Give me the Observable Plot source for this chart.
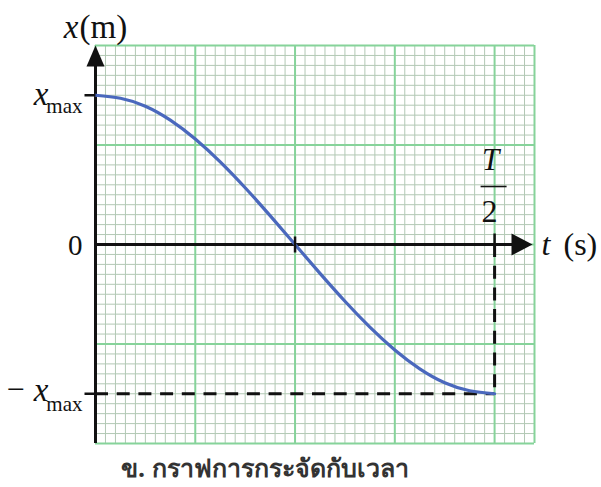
<!DOCTYPE html>
<html>
<head>
<meta charset="utf-8">
<script src="https://cdn.jsdelivr.net/npm/d3@7"></script>
<script src="https://cdn.jsdelivr.net/npm/@observablehq/plot@0.6"></script>
<style>
  body { margin: 0; background: #fff; }
  #caption { font-family: "Noto Sans", "DejaVu Sans", sans-serif; font-weight: bold; font-size: 25px; color: #333; margin-left: 121px; margin-top: 4px; line-height: 30px; }
</style>
</head>
<body>
<div id="chart"></div>
<div id="caption">ข. กราฟการกระจัดกับเวลา</div>
<script>
// time in grid units (T/2 = 4), displacement in grid units (x_max = 1.5)
const tValues = [0, 0.25, 0.5, 0.75, 1, 1.25, 1.5, 1.75, 2, 2.25, 2.5, 2.75, 3, 3.25, 3.5, 3.75, 4];
const xValues = [1.5, 1.47, 1.39, 1.25, 1.06, 0.83, 0.57, 0.29, 0, -0.29, -0.57, -0.83, -1.06, -1.25, -1.39, -1.47, -1.5];
const xMax = 1.5;
const tHalfPeriod = 4;
const tMid = 2;
const tEnd = 4.4;
const yLevels = [xMax, 0, -xMax];
const yAxisLabel = ["x", "(m)"];
const xAxisLabel = ["t", "(s)"];
const fracTop = "T", fracBottom = "2";

const data = tValues.map((t, i) => ({t, x: xValues[i]}));

const minorT = d3.range(0, 45).map(i => i / 10).filter(v => Math.abs(v - Math.round(v)) > 1e-9);
const majorT = [0, 1, 2, 3, 4, tEnd];
const minorY = d3.range(-20, 21).map(i => i / 10).filter(v => Math.abs(v - Math.round(v)) > 1e-9);
const majorY = [-2, -1, 0, 1, 2];

function lineSymbol(x1, y1, x2, y2) {
  return { draw(ctx) { ctx.moveTo(x1, y1); ctx.lineTo(x2, y2); } };
}
const upArrow = { draw(ctx) { ctx.moveTo(0, 0); ctx.lineTo(9, 21); ctx.lineTo(-9, 21); ctx.closePath(); } };
const rightArrow = { draw(ctx) { ctx.moveTo(-2, 0); ctx.lineTo(-23, 11); ctx.lineTo(-23, -11); ctx.closePath(); } };

const serif = "'Liberation Serif', 'DejaVu Serif', serif";
const ink = "#111";

const plot = Plot.plot({
  width: 601,
  height: 448,
  marginLeft: 95,
  marginRight: 67,
  marginTop: 45,
  marginBottom: 5,
  x: {domain: [0, tEnd], axis: null},
  y: {domain: [-2, 2], axis: null},
  style: {background: "#fff", overflow: "visible"},
  marks: [
    Plot.ruleX(minorT, {stroke: "#b2c8b4", strokeWidth: 1}),
    Plot.ruleY(minorY, {stroke: "#b2c8b4", strokeWidth: 1}),
    Plot.ruleX(majorT, {stroke: "#86d39a", strokeWidth: 2}),
    Plot.ruleY(majorY, {stroke: "#86d39a", strokeWidth: 2}),
    // axes
    Plot.ruleX([0], {y1: -2, y2: 1.9, stroke: ink, strokeWidth: 3}),
    Plot.ruleY([0], {x1: 0, x2: tEnd - 0.1, stroke: ink, strokeWidth: 3}),
    // dashed guides
    Plot.ruleY([-xMax], {x1: 0, x2: tHalfPeriod, stroke: ink, strokeWidth: 3, strokeDasharray: "13,8.7"}),
    Plot.ruleX([tHalfPeriod], {y1: 0, y2: -xMax, stroke: ink, strokeWidth: 3, strokeDasharray: "13,8.7"}),
    // curve
    Plot.line(data, {x: "t", y: "x", curve: "natural", stroke: "#4a68bd", strokeWidth: 3.2}),
    // ticks
    Plot.dot([xMax, -xMax], {x: 0, y: d => d, symbol: lineSymbol(-11, 0, 0, 0), fill: "none", stroke: ink, strokeWidth: 2.5}),
    Plot.dot([tMid], {x: d => d, y: 0, symbol: lineSymbol(0, -8, 0, 8), fill: "none", stroke: ink, strokeWidth: 2.5}),
    Plot.dot([tHalfPeriod], {x: d => d, y: 0, symbol: lineSymbol(0, -11, 0, 0), fill: "none", stroke: ink, strokeWidth: 2.5}),
    // arrowheads
    Plot.dot([0], {x: 0, y: 2, symbol: upArrow, fill: ink, stroke: "none"}),
    Plot.dot([0], {x: tEnd, y: 0, symbol: rightArrow, fill: ink, stroke: "none"}),
    // y axis title
    Plot.text([yAxisLabel[0]], {x: 0, y: 2, text: d => d, dx: -17, dy: -8, textAnchor: "end", lineAnchor: "bottom", fontFamily: serif, fontStyle: "italic", fontSize: 33, fill: ink}),
    Plot.text([yAxisLabel[1]], {x: 0, y: 2, text: d => d, dx: -16, dy: -8, textAnchor: "start", lineAnchor: "bottom", fontFamily: serif, fontSize: 33, letterSpacing: "1.5px", fill: ink}),
    // y level labels
    Plot.text([yLevels[0]], {x: 0, y: d => d, text: () => "x", dx: -47, dy: 10, textAnchor: "end", lineAnchor: "bottom", fontFamily: serif, fontStyle: "italic", fontSize: 33, fill: ink}),
    Plot.text([yLevels[0]], {x: 0, y: d => d, text: () => "max", dx: -13, dy: 18, textAnchor: "end", lineAnchor: "bottom", fontFamily: serif, fontSize: 21, fill: ink}),
    Plot.text([yLevels[1]], {x: 0, y: d => d, text: d => String(d), dx: -13, dy: 10, textAnchor: "end", lineAnchor: "bottom", fontFamily: serif, fontSize: 29, fill: ink}),
    Plot.text([yLevels[2]], {x: 0, y: d => d, text: () => "−", dx: -71, dy: 6, textAnchor: "end", lineAnchor: "bottom", fontFamily: serif, fontSize: 32, fill: ink}),
    Plot.text([yLevels[2]], {x: 0, y: d => d, text: () => "x", dx: -47, dy: 7, textAnchor: "end", lineAnchor: "bottom", fontFamily: serif, fontStyle: "italic", fontSize: 33, fill: ink}),
    Plot.text([yLevels[2]], {x: 0, y: d => d, text: () => "max", dx: -13, dy: 17, textAnchor: "end", lineAnchor: "bottom", fontFamily: serif, fontSize: 21, fill: ink}),
    // T/2 fraction
    Plot.text([fracTop], {x: tHalfPeriod, y: 0, text: d => d, dx: -4, dy: -75, textAnchor: "middle", lineAnchor: "bottom", fontFamily: serif, fontStyle: "italic", fontSize: 31, fill: ink}),
    Plot.dot([tHalfPeriod], {x: d => d, y: 0, dy: -58, symbol: lineSymbol(-14, 0, 12, 0), fill: "none", stroke: ink, strokeWidth: 1.6}),
    Plot.text([fracBottom], {x: tHalfPeriod, y: 0, text: d => d, dx: -5, dy: -23, textAnchor: "middle", lineAnchor: "bottom", fontFamily: serif, fontSize: 32, fill: ink}),
    // t axis title
    Plot.text([xAxisLabel[0]], {x: tEnd, y: 0, text: d => d, dx: 7, dy: 10, textAnchor: "start", lineAnchor: "bottom", fontFamily: serif, fontStyle: "italic", fontSize: 32, fill: ink}),
    Plot.text([xAxisLabel[1]], {x: tEnd, y: 0, text: d => d, dx: 29, dy: 10, textAnchor: "start", lineAnchor: "bottom", fontFamily: serif, fontSize: 32, fill: ink})
  ]
});
document.getElementById("chart").append(plot);
</script>
</body>
</html>
